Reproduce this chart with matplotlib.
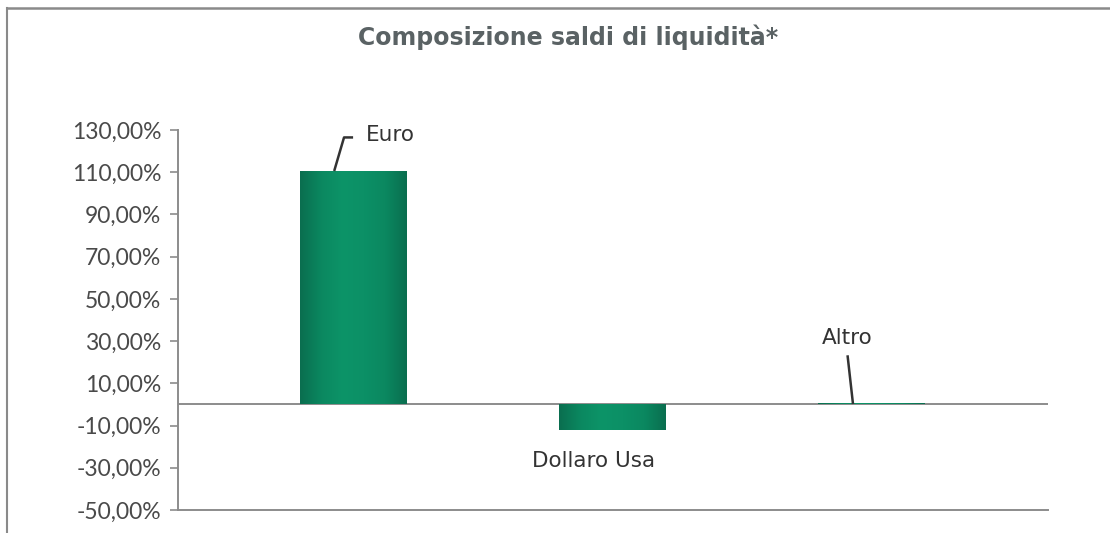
import matplotlib
matplotlib.use("Agg")
import matplotlib.pyplot as plt
import numpy as np
from matplotlib.colors import LinearSegmentedColormap
from matplotlib.ticker import FuncFormatter

# Liquidity balance composition by currency (% of total)
categories = ["Euro", "Dollaro Usa", "Altro"]
values = [110.6, -12.3, 0.8]
y_ticks = [-50, -30, -10, 10, 30, 50, 70, 90, 110, 130]
title = "Composizione saldi di liquidità*"

plt.rcParams["font.family"] = ["Lato", "DejaVu Sans"]

fig = plt.figure(figsize=(11.1, 5.33), dpi=100)
ax = fig.add_axes([0.1604, 0.0432, 0.944 - 0.1604, 0.756 - 0.0432])

x = np.arange(len(categories))
bar_w = 0.41
bars = ax.bar(x, values, width=bar_w, color="#0b8a60", edgecolor="none", zorder=2)

# soft horizontal shading on each bar
shade = LinearSegmentedColormap.from_list(
    "shade", ["#0a6e4f", "#0b8860", "#0d9468", "#0c9066", "#0b8860", "#0a6e4f"])
grad = np.linspace(0, 1, 256).reshape(1, -1)
for b in bars:
    x0, y0 = b.get_x(), b.get_y()
    w, h = b.get_width(), b.get_height()
    im = ax.imshow(grad, cmap=shade, aspect="auto",
                   extent=(x0, x0 + w, min(y0, y0 + h), max(y0, y0 + h)),
                   zorder=3)
    im.set_clip_path(b)

ax.set_xlim(-0.676, 2.683)
ax.set_ylim(-50, 130)
ax.set_yticks(y_ticks)
ax.yaxis.set_major_formatter(
    FuncFormatter(lambda v, p: f"{v:.2f}".replace(".", ",") + "%"))
ax.set_xticks([])

for side in ("top", "right"):
    ax.spines[side].set_visible(False)
for side in ("left", "bottom"):
    ax.spines[side].set_color("#8c8c8c")
    ax.spines[side].set_linewidth(1.4)
ax.axhline(0, color="#8c8c8c", lw=1.4, zorder=1)
ax.tick_params(axis="y", direction="out", length=6, width=1.2,
               color="#8c8c8c", labelcolor="#4a4a4a", labelsize=16.5, pad=6)

# category labels with leader lines
lbl_kw = dict(fontsize=15.5, color="#333333", family=["DejaVu Sans"])
ev = values[0]
ax.plot([x[0] - 0.073, x[0] - 0.035, x[0] + 0.0], [ev, 126.5, 126.5],
        color="#333333", lw=1.8, zorder=4, solid_capstyle="butt")
ax.text(x[0] + 0.05, 127.5, categories[0], ha="left", va="center", **lbl_kw)

ax.text(x[1] - 0.073, values[1] - 14.5, categories[1], ha="center",
        va="center", **lbl_kw)

av = values[2]
ax.plot([x[2] - 0.07, x[2] - 0.09], [av, 22.7], color="#333333", lw=1.8,
        zorder=4)
ax.text(x[2] - 0.093, 31.3, categories[2], ha="center", va="center", **lbl_kw)

fig.text(0.5117, 0.930, title, ha="center", va="center", fontsize=17,
         fontweight="bold", color="#5a6264", family=["DejaVu Sans"])

# outer frame edges
fig.add_artist(plt.Line2D([7 / 1110, 7 / 1110], [0, 1 - 8 / 533],
                          color="#8a8a8a", lw=1.5))
fig.add_artist(plt.Line2D([7 / 1110, 1], [1 - 8 / 533, 1 - 8 / 533],
                          color="#8a8a8a", lw=1.8))

fig.savefig("out.png", dpi=100, facecolor="white")
